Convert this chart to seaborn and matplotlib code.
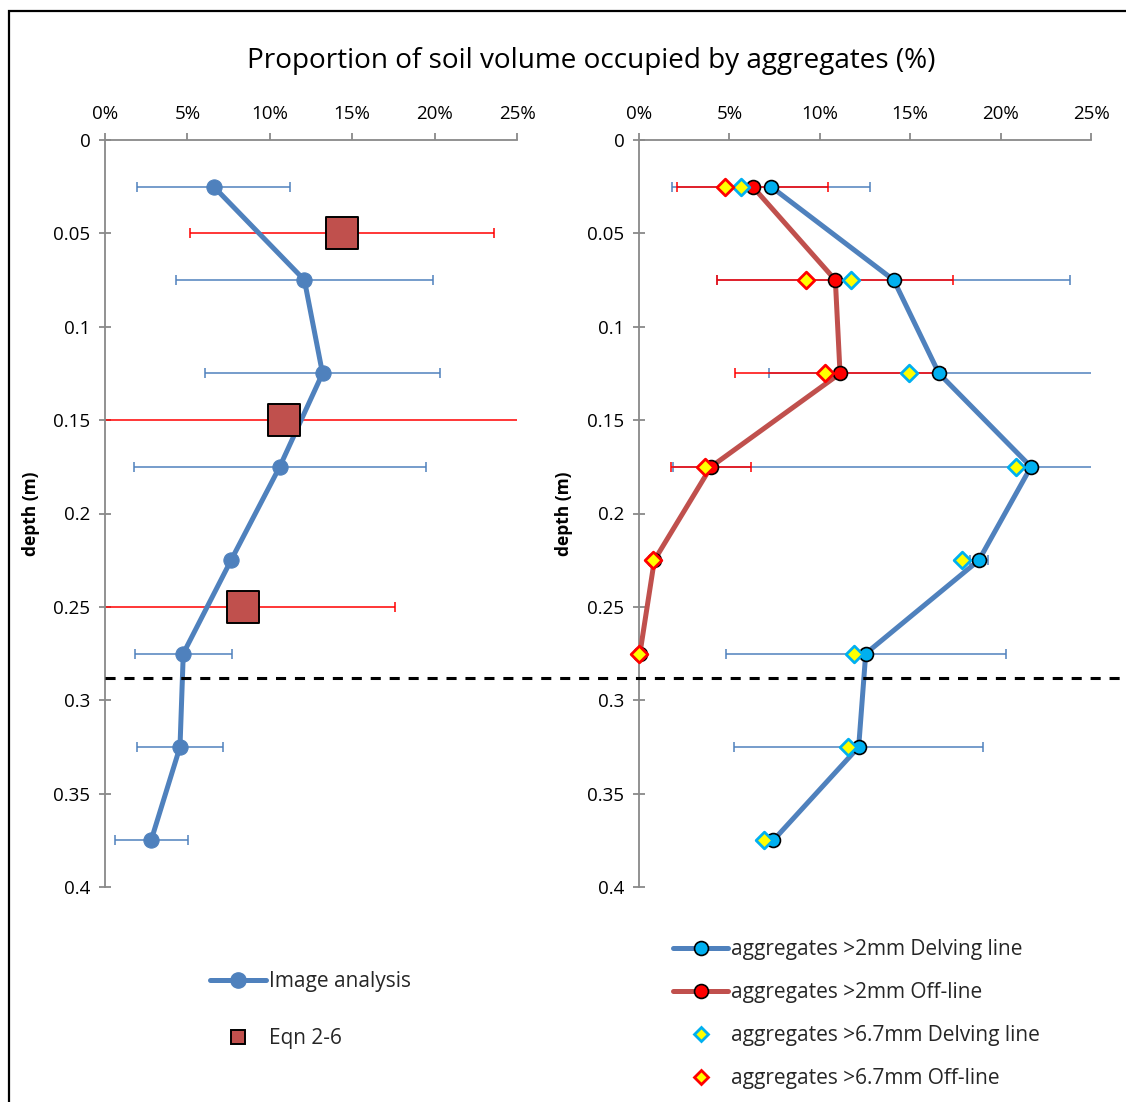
import numpy as np
import pandas as pd
import matplotlib
matplotlib.use("Agg")
import matplotlib.pyplot as plt
import matplotlib.transforms as mtransforms
from matplotlib.lines import Line2D
from matplotlib.patches import Rectangle
import seaborn as sns

# ---------------- data ----------------
depth = [0.025, 0.075, 0.125, 0.175, 0.225, 0.275, 0.325, 0.375]

# left panel: image analysis (mean, +/- error) and Eqn 2-6 estimates
img_mean = [6.6, 12.1, 13.2, 10.6, 7.65, 4.75, 4.55, 2.8]
img_err = [4.65, 7.8, 7.15, 8.87, 0.0, 2.95, 2.62, 2.22]

eqn_depth = [0.05, 0.15, 0.25]
eqn_mean = [14.4, 10.85, 8.35]
eqn_err = [9.22, 14.5, 9.25]

# right panel: sieved aggregates
delv2 = [7.30, 14.09, 16.59, 21.68, 18.80, 12.54, 12.15, 7.43]
delv2_err = [5.48, 9.75, 9.40, 19.82, 0.48, 7.74, 6.90, 0.0]

off_depth = [0.025, 0.075, 0.125, 0.175, 0.225, 0.275]
off2 = [6.29, 10.86, 11.12, 3.98, 0.85, 0.05]
off2_err = [4.17, 6.52, 5.79, 2.23, 0.0, 0.0]

delv67 = [5.64, 11.71, 14.93, 20.85, 17.85, 11.89, 11.54, 6.93]
off67 = [4.76, 9.22, 10.29, 3.63, 0.80, 0.0]

x_ticks = [0, 5, 10, 15, 20, 25]
y_ticks = [0, 0.05, 0.1, 0.15, 0.2, 0.25, 0.3, 0.35, 0.4]
boundary_depth = 0.2883

title = "Proportion of soil volume occupied by aggregates (%)"
labels_left = ["Image analysis", "Eqn 2-6"]
labels_right = ["aggregates >2mm Delving line", "aggregates >2mm Off-line",
                "aggregates >6.7mm Delving line", "aggregates >6.7mm Off-line"]

# ---------------- style ----------------
sns.set_theme(style="white")
FONT = ["Open Sans", "DejaVu Sans"]
plt.rcParams["font.family"] = FONT

BLUE = "#4F81BD"
RED_LINE = "#C0504D"
RED = "#FF0000"
CYAN = "#00B0F0"
YELLOW = "#FFFF00"
AXIS = "#898989"

W, H = 1126, 1102
fig = plt.figure(figsize=(W / 100, H / 100), dpi=100)
fig.patch.set_facecolor("white")


def fx(px):
    return px / W


def fy(py):
    return 1 - py / H


ax1 = fig.add_axes([fx(105), fy(887), fx(517) - fx(105), fy(140) - fy(887)])
ax2 = fig.add_axes([fx(639), fy(887), fx(1091) - fx(639), fy(140) - fy(887)])


def style_axes(ax, label_x):
    ax.set_xlim(0, 25)
    ax.set_ylim(0.4, 0)
    ax.xaxis.tick_top()
    ax.set_xticks(x_ticks)
    ax.set_xticklabels([f"{t}%" for t in x_ticks])
    ax.set_yticks(y_ticks)
    ax.set_yticklabels([f"{t:g}" for t in y_ticks])
    for s in ["bottom", "right"]:
        ax.spines[s].set_visible(False)
    for s in ["top", "left"]:
        ax.spines[s].set_color(AXIS)
        ax.spines[s].set_linewidth(1.3)
    ax.tick_params(axis="x", which="major", top=True, bottom=False, direction="out",
                   length=5, width=1.3, color=AXIS, labelsize=13.5, pad=7,
                   labelcolor="black")
    ax.tick_params(axis="y", which="major", left=True, direction="inout",
                   length=9, width=1.3, color=AXIS, labelsize=13.5, pad=6,
                   labelcolor="black")
    ax.set_ylabel("depth (m)", fontsize=12.5, fontweight="bold", color="black")
    ax.yaxis.set_label_coords(label_x, 0.5)
    ax.set_xlabel("")
    ax.grid(False)
    ax.set_facecolor("none")


# ---------------- left panel ----------------
ebkw = dict(fmt="none", capsize=3.6, elinewidth=1.1, capthick=1.1)
ax1.errorbar(eqn_mean, eqn_depth, xerr=eqn_err, ecolor=RED, zorder=2, **ebkw)
ax1.errorbar(img_mean, depth, xerr=img_err, ecolor=BLUE, zorder=2, **ebkw)

df_img = pd.DataFrame({"value": img_mean, "depth": depth})
sns.lineplot(data=df_img, x="value", y="depth", sort=False, estimator=None, ax=ax1,
             color=BLUE, linewidth=3.6, marker="o", markersize=11,
             markerfacecolor=BLUE, markeredgecolor=BLUE, zorder=3, legend=False)

df_eqn = pd.DataFrame({"value": eqn_mean, "depth": eqn_depth})
sns.scatterplot(data=df_eqn, x="value", y="depth", ax=ax1, marker="s", s=23.5 ** 2,
                color=RED_LINE, edgecolor="black", linewidth=1.4, zorder=4, legend=False)

style_axes(ax1, -0.158)

# ---------------- right panel ----------------
ax2.errorbar(delv2, depth, xerr=delv2_err, ecolor=BLUE, zorder=2, **ebkw)
ax2.errorbar(off2, off_depth, xerr=off2_err, ecolor=RED, zorder=2, **ebkw)

df_d2 = pd.DataFrame({"value": delv2, "depth": depth})
sns.lineplot(data=df_d2, x="value", y="depth", sort=False, estimator=None, ax=ax2,
             color=BLUE, linewidth=3.6, marker="o", markersize=10,
             markerfacecolor=CYAN, markeredgecolor="black", markeredgewidth=1.2,
             zorder=3, legend=False)

df_o2 = pd.DataFrame({"value": off2, "depth": off_depth})
sns.lineplot(data=df_o2, x="value", y="depth", sort=False, estimator=None, ax=ax2,
             color=RED_LINE, linewidth=3.6, marker="o", markersize=10,
             markerfacecolor=RED, markeredgecolor="black", markeredgewidth=1.2,
             zorder=3, legend=False, clip_on=False)

df_d67 = pd.DataFrame({"value": delv67, "depth": depth})
sns.scatterplot(data=df_d67, x="value", y="depth", ax=ax2, marker="D", s=8.5 ** 2,
                color=YELLOW, edgecolor=CYAN, linewidth=2.0, zorder=5, legend=False)

df_o67 = pd.DataFrame({"value": off67, "depth": off_depth})
sns.scatterplot(data=df_o67, x="value", y="depth", ax=ax2, marker="D", s=8.5 ** 2,
                color=YELLOW, edgecolor=RED, linewidth=2.0, zorder=5, legend=False,
                clip_on=False)

style_axes(ax2, -0.146)

# boundary line spanning both panels
trans = mtransforms.blended_transform_factory(fig.transFigure, ax1.transData)
fig.add_artist(Line2D([fx(105), 1.0], [boundary_depth, boundary_depth], transform=trans,
                      color="black", linewidth=2.2, linestyle=(0, (3.3, 2.9))))

# ---------------- title ----------------
fig.text(fx(591), fy(61), title, ha="center", va="center", fontsize=20.1, color="black")

# ---------------- legends ----------------
h_left = [
    Line2D([], [], color=BLUE, linewidth=3.6, marker="o", markersize=11,
           markerfacecolor=BLUE, markeredgecolor=BLUE),
    Line2D([], [], linestyle="none", marker="s", markersize=10,
           markerfacecolor=RED_LINE, markeredgecolor="black", markeredgewidth=1.4),
]
leg1 = fig.legend(h_left, labels_left, loc="upper left",
                  bbox_to_anchor=(fx(210), fy(971)), frameon=False, fontsize=15,
                  handlelength=2.7, handletextpad=0.15, labelspacing=1.72,
                  borderaxespad=0, borderpad=0)

h_right = [
    Line2D([], [], color=BLUE, linewidth=3.6, marker="o", markersize=10,
           markerfacecolor=CYAN, markeredgecolor="black", markeredgewidth=1.2),
    Line2D([], [], color=RED_LINE, linewidth=3.6, marker="o", markersize=10,
           markerfacecolor=RED, markeredgecolor="black", markeredgewidth=1.2),
    Line2D([], [], linestyle="none", marker="D", markersize=7,
           markerfacecolor=YELLOW, markeredgecolor=CYAN, markeredgewidth=2.0),
    Line2D([], [], linestyle="none", marker="D", markersize=7,
           markerfacecolor=YELLOW, markeredgecolor=RED, markeredgewidth=2.0),
]
leg2 = fig.legend(h_right, labels_right, loc="upper left",
                  bbox_to_anchor=(fx(673), fy(939)), frameon=False, fontsize=15,
                  handlelength=2.65, handletextpad=0.15, labelspacing=1.06,
                  borderaxespad=0, borderpad=0)

# outer frame
fig.add_artist(Rectangle((fx(8.5), -0.05), 1.2, fy(11) + 0.05, transform=fig.transFigure,
                         fill=False, edgecolor="black", linewidth=1.6))

fig.savefig("out.png", dpi=100, facecolor="white")
